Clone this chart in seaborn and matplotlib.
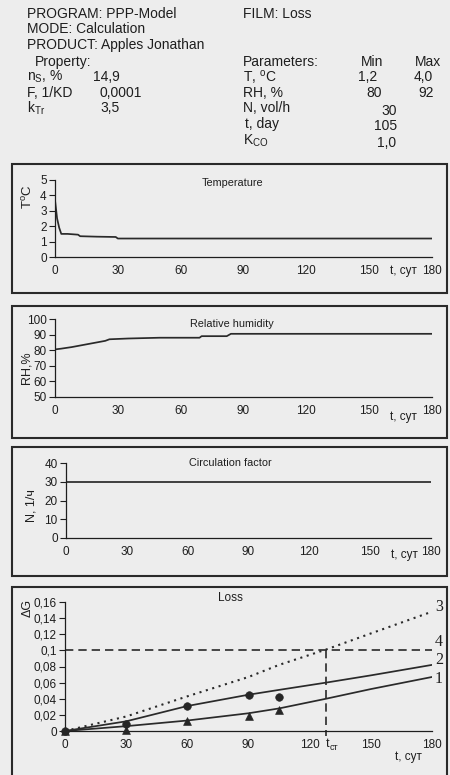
import matplotlib
matplotlib.use("Agg")
import matplotlib.pyplot as plt
import matplotlib.transforms as mtransforms
from matplotlib.patches import Rectangle
import seaborn as sns
import pandas as pd

# ---------------- data ----------------
temp_t = [0, 0.5, 1, 2, 3, 6, 11, 12, 20, 29, 30, 60, 100, 150, 180]
temp_v = [3.7, 3.1, 2.5, 1.9, 1.5, 1.5, 1.45, 1.35, 1.32, 1.3, 1.2, 1.2, 1.2, 1.2, 1.2]

rh_t = [0, 3, 8, 12, 16, 20, 24, 26, 35, 50, 69, 70, 82, 84, 120, 180]
rh_v = [80.5, 81, 82, 83, 84, 85, 86, 87, 87.5, 88, 88, 89, 89, 90.5, 90.5, 90.5]

n_t = [0, 180]
n_v = [30, 30]

loss_t = [0, 30, 60, 90, 105, 128, 150, 180]
loss_1 = [0, 0.006, 0.013, 0.022, 0.028, 0.040, 0.052, 0.067]
loss_2 = [0, 0.012, 0.031, 0.045, 0.051, 0.060, 0.069, 0.082]
loss_3 = [0, 0.018, 0.043, 0.067, 0.082, 0.101, 0.121, 0.148]
limit_4 = 0.1
t_st = 128

circ_t = [0, 30, 60, 90, 105]
circ_v = [0, 0.009, 0.031, 0.045, 0.0425]
tri_t = [0, 30, 60, 90, 105]
tri_v = [0, 0.001, 0.013, 0.018, 0.026]

x_ticks = [0, 30, 60, 90, 120, 150, 180]
x_minor = [15, 45, 75, 105, 135, 165]
loss_yticks = [0, 0.02, 0.04, 0.06, 0.08, 0.1, 0.12, 0.14, 0.16]
loss_ylabels = ["0", "0,02", "0,04", "0,06", "0,08", "0,1", "0,12", "0,14", "0,16"]

header_left = [
    ("PROGRAM: PPP-Model", 27, 14),
    ("MODE: Calculation", 27, 29),
    ("PRODUCT: Apples Jonathan", 27, 45),
    ("Property:", 35, 62),
    (r"n$_\mathregular{S}$, %", 27, 77),
    ("F, 1/KD", 27, 93),
    (r"k$_\mathregular{Tr}$", 27, 108),
    ("FILM: Loss", 243, 14),
    ("Parameters:", 243, 62),
    (r"T, $^\mathregular{o}$C", 243, 77),
    ("RH, %", 243, 93),
    ("N, vol/h", 243, 108),
    ("t, day", 245, 124),
    (r"K$_\mathregular{CO}$", 243, 141),
]
header_left_vals = [("14,9", 93, 77), ("0,0001", 100, 93), ("3,5", 100, 108)]
header_center = [
    ("Min", 372, 62), ("Max", 428, 62),
    ("1,2", 368, 77), ("4,0", 423, 77),
    ("80", 374, 93), ("92", 426, 93),
    ("30", 389, 111), ("105", 386, 126), ("1,0", 387, 143),
]

# ---------------- style ----------------
sns.set_theme(style="white")
plt.rcParams["font.family"] = ["Liberation Sans", "DejaVu Sans"]
plt.rcParams["mathtext.fontset"] = "custom"
plt.rcParams["mathtext.rm"] = "Liberation Sans"
plt.rcParams["mathtext.it"] = "Liberation Sans:italic"
plt.rcParams["mathtext.bf"] = "Liberation Sans:bold"

BG = "#ededed"
INK = "#1e1e1e"
W, H = 450, 775
TICK_FS = 8.5

fig = plt.figure(figsize=(4.5, 7.75), dpi=100, facecolor=BG)


def fx(px):
    return px / W


def fy(py):
    return 1 - py / H


def box(x0, y0, x1, y1):
    fig.patches.append(Rectangle((fx(x0), fy(y1)), fx(x1) - fx(x0), fy(y0) - fy(y1),
                                 transform=fig.transFigure, fill=False,
                                 edgecolor="#2a2a2a", lw=1.5, zorder=0))


def make_axes(x0, x1, ytop, ybot):
    ax = fig.add_axes([fx(x0), fy(ybot), fx(x1) - fx(x0), fy(ytop) - fy(ybot)])
    ax.set_facecolor("none")
    for s in ["top", "right"]:
        ax.spines[s].set_visible(False)
    for s in ["left", "bottom"]:
        ax.spines[s].set_color(INK)
        ax.spines[s].set_linewidth(0.9)
    ax.set_xlim(0, 180)
    ax.set_xticks(x_ticks)
    ax.set_xticks(x_minor, minor=True)
    ax.tick_params(axis="x", which="both", direction="inout", length=6, width=0.8,
                   color=INK, labelsize=TICK_FS, labelcolor=INK, pad=3)
    ax.tick_params(axis="y", which="major", direction="out", length=4, width=0.8,
                   color=INK, labelsize=TICK_FS, labelcolor=INK, pad=2, left=True)
    ax.set_xlabel("")
    ax.set_ylabel("")
    ax.grid(False)
    return ax


# header
for s, x, y in header_left + header_left_vals:
    fig.text(fx(x), fy(y), s, ha="left", va="center", fontsize=10, color=INK)
for s, x, y in header_center:
    fig.text(fx(x), fy(y), s, ha="center", va="center", fontsize=10, color=INK)

# panel boxes
box(12, 164, 447, 293)
box(12, 306, 447, 438)
box(12, 447, 447, 576)
box(12, 587, 447, 790)

lkw = dict(color="#2a2a2a", lw=1.25)

# ---- Temperature ----
ax1 = make_axes(55, 432, 180, 257)
sns.lineplot(x=temp_t, y=temp_v, ax=ax1, **lkw)
ax1.set_ylim(0, 5)
ax1.set_yticks([0, 1, 2, 3, 4, 5])
ax1.text(0.47, 0.96, "Temperature", transform=ax1.transAxes, ha="center", va="center",
         fontsize=7.8, color=INK)
fig.text(fx(28), fy(197), r"T$^\mathregular{o}$C", rotation=90, ha="center", va="center",
         fontsize=9.5, color=INK)
fig.text(fx(403), fy(271), "t, сут", ha="center", va="center", fontsize=TICK_FS, color=INK)

# ---- Relative humidity ----
ax2 = make_axes(55, 432, 319, 397)
sns.lineplot(x=rh_t, y=rh_v, ax=ax2, **lkw)
ax2.set_ylim(50, 100)
ax2.set_yticks([50, 60, 70, 80, 90, 100])
ax2.text(0.47, 0.94, "Relative humidity", transform=ax2.transAxes, ha="center", va="center",
         fontsize=7.8, color=INK)
fig.text(fx(26), fy(368), "RH,%", rotation=90, ha="center", va="center",
         fontsize=9, color=INK)
fig.text(fx(403), fy(417), "t, сут", ha="center", va="center", fontsize=TICK_FS, color=INK)

# ---- Circulation factor ----
ax3 = make_axes(66, 431, 463, 538)
sns.lineplot(x=n_t, y=n_v, ax=ax3, **lkw)
ax3.set_ylim(0, 40)
ax3.set_yticks([0, 10, 20, 30, 40])
ax3.text(0.45, 1.0, "Circulation factor", transform=ax3.transAxes, ha="center", va="center",
         fontsize=7.8, color=INK)
fig.text(fx(31), fy(506), "N, 1/ч", rotation=90, ha="center", va="center",
         fontsize=9, color=INK)
fig.text(fx(404), fy(555), "t, сут", ha="center", va="center", fontsize=TICK_FS, color=INK)

# ---- Loss ----
ax4 = make_axes(65, 432, 602, 731)
df = pd.DataFrame({"t": loss_t, "c1": loss_1, "c2": loss_2, "c3": loss_3})
sns.lineplot(data=df, x="t", y="c1", ax=ax4, **lkw)
sns.lineplot(data=df, x="t", y="c2", ax=ax4, **lkw)
sns.lineplot(data=df, x="t", y="c3", ax=ax4, color="#2a2a2a", lw=1.5, linestyle=(0, (1, 2.2)))
ax4.plot([0, 180], [limit_4, limit_4], color="#2a2a2a", lw=1.2, linestyle=(0, (5, 3)))
ax4.plot([t_st, t_st], [limit_4, -0.006], color="#2a2a2a", lw=1.2, linestyle=(0, (5, 3)),
         clip_on=False)
sns.scatterplot(x=circ_t, y=circ_v, ax=ax4, marker="o", s=30, color="#262626",
                edgecolor="#262626", zorder=5, clip_on=False)
sns.scatterplot(x=tri_t, y=tri_v, ax=ax4, marker="^", s=32, color="#262626",
                edgecolor="#262626", zorder=5, clip_on=False)
ax4.set_ylim(0, 0.16)
ax4.set_yticks(loss_yticks)
ax4.set_yticklabels(loss_ylabels)
ax4.set_xlabel("")
ax4.set_ylabel("")
ax4.text(0.45, 1.03, "Loss", transform=ax4.transAxes, ha="center", va="center",
         fontsize=8.5, color=INK)
fig.text(fx(28), fy(608), "ΔG", rotation=90, ha="center", va="center",
         fontsize=9, color=INK)
fig.text(fx(408), fy(757), "t, сут", ha="center", va="center", fontsize=TICK_FS, color=INK)
trans = mtransforms.blended_transform_factory(ax4.transData, fig.transFigure)
ax4.text(t_st - 0.3, fy(744), "t", transform=trans, ha="left", va="center",
         fontsize=9, color=INK)
ax4.text(t_st + 1.8, fy(747), "ст", transform=trans, ha="left", va="center",
         fontsize=6.5, color=INK)
for lab, yy in [("3", 607), ("4", 642), ("2", 660), ("1", 679)]:
    fig.text(fx(439), fy(yy), lab, ha="center", va="center", fontsize=11.5,
             family=["Liberation Serif", "DejaVu Serif"], color=INK)

fig.savefig("out.png", dpi=100, facecolor=BG)
